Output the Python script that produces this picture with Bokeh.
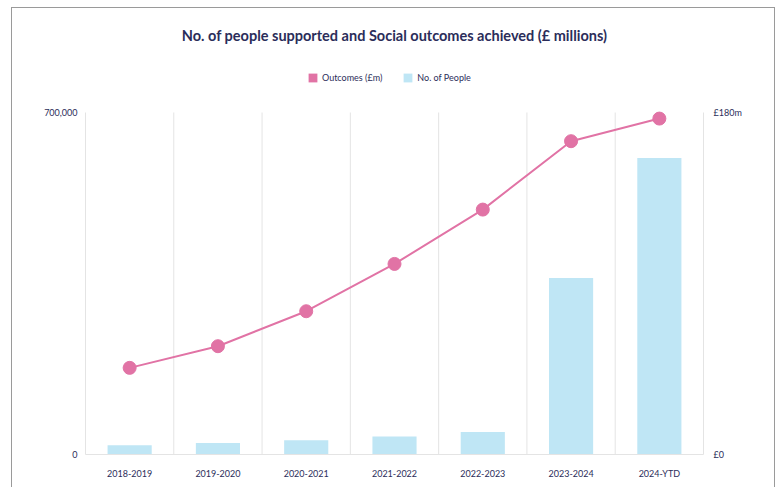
from bokeh.plotting import figure
from bokeh.models import (Range1d, LinearAxis, FixedTicker, Legend, LegendItem,
                          ColumnDataSource, Label, NumeralTickFormatter)
from bokeh.embed import file_html
from bokeh.resources import INLINE

categories = ["2018-2019", "2019-2020", "2020-2021", "2021-2022", "2022-2023", "2023-2024", "2024-YTD"]
people = [19000, 23700, 29300, 36800, 46300, 361500, 607000]
outcomes_m = [45.6, 57.0, 75.4, 100.3, 128.9, 164.9, 176.8]
left_ticks = [0, 700000]
right_ticks = [0, 180]
right_labels = {0: "£0", 180: "£180m"}
title_text = "No. of people supported and Social outcomes achieved (£ millions)"
legend_labels = ["Outcomes (£m)", "No. of People"]

FONT = "Lato"
NAVY = "#2b2d5a"
PINK = "#e173a5"
BLUE = "#bfe6f5"
GRID = "#e4e4e4"

# layout (pixels)
W, H = 764, 480
BOTTOM = 34
FRAME_H = H - BOTTOM
TOP_PAD = 104  # space between top of frame and the top tick line
left_max = left_ticks[-1]
right_max = right_ticks[-1]
scale_up = FRAME_H / (FRAME_H - TOP_PAD)

xpos = [i + 0.5 for i in range(len(categories))]
bounds_x = list(range(1, len(categories)))
src = ColumnDataSource(dict(x=xpos, people=people, out=outcomes_m, cat=categories))

p = figure(width=W, height=H, output_backend="svg", toolbar_location=None,
           x_range=Range1d(0, len(categories)), y_range=Range1d(0, left_max * scale_up),
           min_border_left=73, min_border_right=73, min_border_top=0, min_border_bottom=BOTTOM,
           background_fill_color="white", border_fill_color="white")
p.margin = (7, 0, 0, 11)
p.styles = {"border-left": "1px solid #9a9a9a", "border-top": "1px solid #9a9a9a",
            "border-right": "1px solid #9a9a9a", "box-sizing": "border-box"}
p.outline_line_color = None
p.extra_y_ranges = {"m": Range1d(0, right_max * scale_up)}
p.xgrid.grid_line_color = None
p.ygrid.grid_line_color = None

# category boundary lines
p.segment(x0=bounds_x, y0=[0] * len(bounds_x), x1=bounds_x, y1=[left_max] * len(bounds_x),
          line_color=GRID, line_width=1)

bars = p.vbar(x="x", top="people", width=0.5, source=src, fill_color=BLUE, line_color=None)
line = p.line(x="x", y="out", source=src, y_range_name="m", line_color=PINK, line_width=2)
dots = p.scatter(x="x", y="out", source=src, y_range_name="m", size=13,
                 fill_color=PINK, line_color=PINK)
# legend swatch for the outcomes series (square, like the reference); zero-height, invisible in plot
swatch = p.vbar(x=xpos[:1], top=[0], bottom=[0], width=0.5, fill_color=PINK, line_color=None)

# x axis
p.xaxis.ticker = FixedTicker(ticks=xpos)
p.xaxis.major_label_overrides = {x: c for x, c in zip(xpos, categories)}
p.xaxis.major_tick_line_color = None
p.xaxis.minor_tick_line_color = None
p.xaxis.axis_line_color = GRID
p.xaxis.major_label_text_font = FONT
p.xaxis.major_label_text_font_size = "9px"
p.xaxis.major_label_text_color = NAVY
p.xaxis.major_label_standoff = 7

# left axis
p.yaxis.ticker = FixedTicker(ticks=left_ticks)
p.yaxis.formatter = NumeralTickFormatter(format="0,0")
p.yaxis.bounds = (0, left_max)
p.yaxis.major_tick_line_color = None
p.yaxis.minor_tick_line_color = None
p.yaxis.axis_line_color = GRID
p.yaxis.major_label_text_font = FONT
p.yaxis.major_label_text_font_size = "9px"
p.yaxis.major_label_text_color = NAVY
p.yaxis.major_label_standoff = 2

# right axis
ra = LinearAxis(y_range_name="m", ticker=FixedTicker(ticks=right_ticks),
                major_label_overrides=right_labels, bounds=(0, right_max))
ra.major_tick_line_color = None
ra.minor_tick_line_color = None
ra.axis_line_color = GRID
ra.major_label_text_font = FONT
ra.major_label_text_font_size = "9px"
ra.major_label_text_color = NAVY
ra.major_label_standoff = 4
p.add_layout(ra, "right")

# title (frame-relative screen units)
frame_w = W - 73 - 73
t = Label(x=frame_w / 2, y=FRAME_H - 27, x_units="screen", y_units="screen", text=title_text,
          text_align="center", text_baseline="middle", text_font=FONT,
          text_font_size="14.5px", text_font_style="bold", text_color=NAVY)
p.add_layout(t)

legend = Legend(items=[LegendItem(label=legend_labels[0], renderers=[swatch]),
                       LegendItem(label=legend_labels[1], renderers=[bars])],
                orientation="horizontal", location=(222, FRAME_H - 75),
                glyph_width=11, glyph_height=11, label_height=11, label_standoff=4,
                spacing=20, padding=0, margin=0, border_line_color=None,
                background_fill_alpha=0, label_text_font=FONT,
                label_text_font_size="9px", label_text_color=NAVY)
p.add_layout(legend, "center")

open("out.html", "w").write(file_html(p, INLINE))
